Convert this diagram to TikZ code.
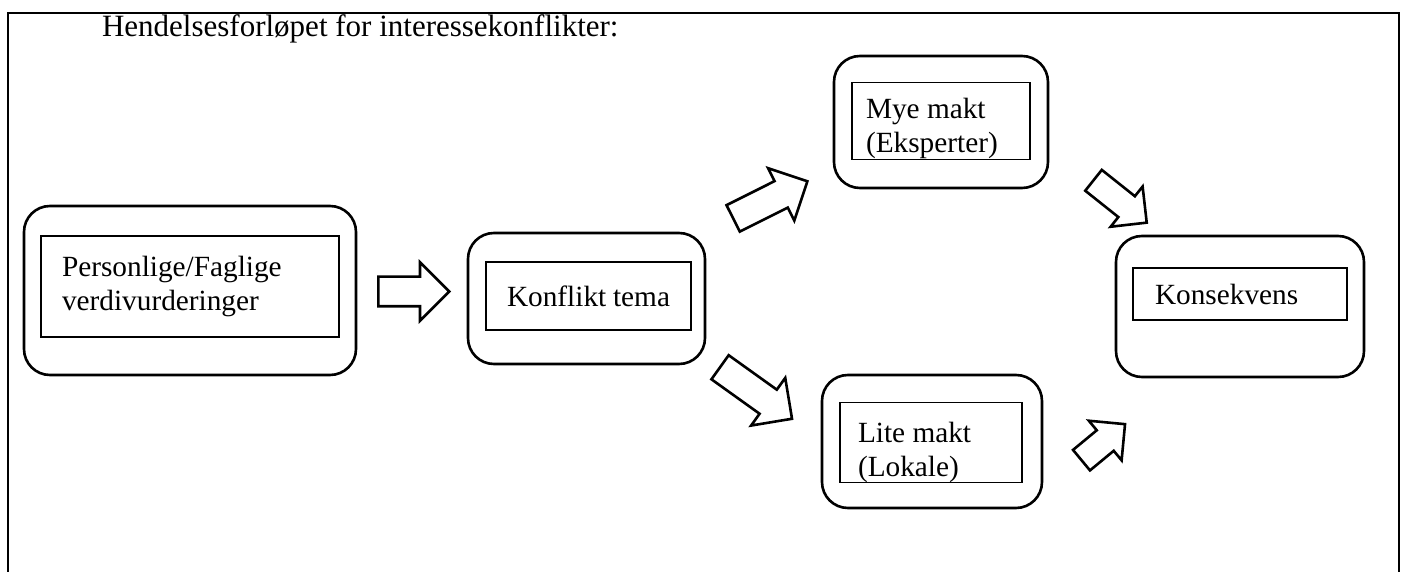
\documentclass[tikz,border=0pt]{standalone}
\usepackage{fontspec}
\setmainfont{Liberation Serif}
\usetikzlibrary{shapes.arrows}

\begin{document}
\begin{tikzpicture}[x=0.5pt,y=-0.5pt,font=\fontsize{14.65pt}{17pt}\selectfont]
		\begin{scope}
		
		\tikzstyle{outerbox}=[draw=black,
		line width=1.3pt,
		rounded corners=13pt,
		inner sep=0pt
		]
		\tikzstyle{innerbox}=[draw=black,
		line width=0.6pt,
		inner xsep=10.5pt,
		inner ysep=0pt,
		align=flush left
		]
		\tikzstyle{bigarrow}=[single arrow,
		draw=black,
		line width=1.3pt,
		inner xsep=0pt,
		inner ysep=6.75pt,
		single arrow head extend=7.25pt,
		anchor=tail
		]
		\tikzstyle{smallarrow}=[bigarrow,
		inner ysep=6pt,
		single arrow head extend=6.2pt
		]
		
		\useasboundingbox (0,0) rectangle (1405,572);
		
		\coordinate (f1) at (8, 572);
		\coordinate (f2) at (8, 13);
		\coordinate (f3) at (1399, 13);
		\coordinate (f4) at (1399, 572);
		
		\coordinate (pverdi) at (190, 290.5);
		\coordinate (ptema) at (586.5, 298.5);
		\coordinate (pmye) at (941, 122);
		\coordinate (plite) at (932, 441.5);
		\coordinate (pkons) at (1240, 306.5);
		
		\draw[line width=1.3pt] (f1) -- (f2) -- (f3) -- (f4);
		
		\node[anchor=base west, font=\fontsize{15.5pt}{18pt}\selectfont] (tittel) at (95, 37) {Hendelsesforløpet for interessekonflikter:};
		
		\node[outerbox, minimum width=166pt, minimum height=84.5pt] (verdi) at (pverdi) {};
		\node[innerbox, text width=128pt, minimum height=50.5pt] (verdit) at (190, 286.5) {Personlige/Faglige\\verdivurderinger};
		
		\node[outerbox, minimum width=118.5pt, minimum height=65.5pt] (tema) at (ptema) {};
		\node[innerbox, text width=81.5pt, minimum height=34pt] (temat) at (588.5, 296) {Konflikt~tema};
		
		\node[outerbox, minimum width=107pt, minimum height=66pt] (mye) at (pmye) {};
		\node[innerbox, inner xsep=7pt, text width=75pt, minimum height=38pt, text height=18pt] (myet) at (941, 121) {Mye makt\\(Eksperter)};
		
		\node[outerbox, minimum width=110pt, minimum height=66.5pt] (lite) at (plite) {};
		\node[innerbox, inner xsep=9pt, text width=73pt, minimum height=37.5pt, text height=20pt] (litet) at (931, 442.5) {Lite makt\\(Lokale)};
		
		\node[outerbox, minimum width=124pt, minimum height=70.5pt] (kons) at (pkons) {};
		\node[innerbox, inner xsep=11pt, text width=85pt, minimum height=26pt] (konst) at (1240, 294) {Konsekvens};
		
		\node[bigarrow, minimum height=35.5pt] (a1) at (377, 291.5) {};
		\node[bigarrow, minimum height=41.5pt, rotate=26.6] (a2) at (732, 219) {};
		\node[bigarrow, minimum height=44.25pt, rotate=-35.6] (a3) at (719, 366.5) {};
		\node[smallarrow, minimum height=34pt, rotate=-38.5] (a4) at (1092.5, 179.5) {};
		\node[smallarrow, minimum height=28.25pt, rotate=39.6] (a5) at (1080.5, 461) {};
		
		\end{scope}
		\end{tikzpicture}
\end{document}
